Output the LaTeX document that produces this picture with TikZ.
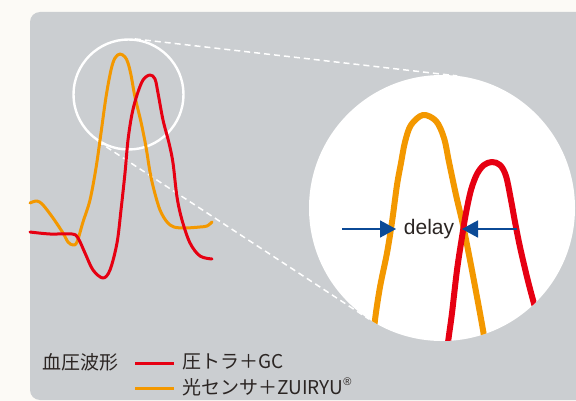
\documentclass[tikz,border=0pt]{standalone}
\usepackage{fontspec}
\newfontfamily\jp{Noto Sans CJK JP}
\newfontfamily\lat{Liberation Sans}
\usetikzlibrary{arrows.meta}
\definecolor{paper}{HTML}{FCFAF6}
\definecolor{panel}{HTML}{CBCED1}
\definecolor{wred}{HTML}{E60012}
\definecolor{worange}{HTML}{F39800}
\definecolor{navy}{HTML}{0B4A96}
\definecolor{ink}{HTML}{2B2523}
\tikzset{
  smallwave/.style={line width=3pt, line join=round, line cap=round},
  bigwave/.style={line width=6pt, line join=round, line cap=butt},
  zoomline/.style={draw=white, line width=1.5pt, dash pattern=on 6pt off 4pt},
  delayarrow/.style={draw=navy, line width=1.6pt, -{Triangle[length=16pt,width=17pt]}},
  legendline/.style={line width=3pt},
  legendtext/.style={anchor=west, inner sep=0pt, text=ink, font=\jp\fontsize{19}{19}\selectfont}
}
\begin{document}
\begin{tikzpicture}[x=1pt,y=-1pt]
\useasboundingbox (0,0) rectangle (576,401);
\fill[paper] (0,0) rectangle (576,401);
\begin{scope}
  \clip (0,0) rectangle (576,401);
  \fill[panel, rounded corners=10pt] (30,12) rectangle (620,400);
\end{scope}

% tangent (zoom) lines
\coordinate (t1a) at (134.9,38.9);
\coordinate (t1b) at (457.2,75.9);
\coordinate (t2a) at (97.8,141.3);
\coordinate (t2b) at (369.1,319.2);
\draw[zoomline] (t1a) -- (t1b);
\draw[zoomline] (t2a) -- (t2b);

% small circle
\node[circle, draw=white, line width=2.4pt, minimum size=110pt, inner sep=0pt] (sc) at (128.5,94.5) {};

% small waveforms
\draw[smallwave, worange] plot[smooth, tension=0.55] coordinates {
 (30,203) (37,201) (43,205) (53,218) (63,233) (68,242) (73,245) (77,242) (83,222) (90,200)
 (96,168) (101,133) (106,97) (111,70) (115,58) (120,54) (125,57) (128,63) (131,75) (135,97)
 (141,122) (146,147) (150,172) (154,190) (160,210) (167,222) (174,227) (185,228) (200,227)
 (207,226) (212,222)};
\draw[smallwave, wred] plot[smooth, tension=0.55] coordinates {
 (30,232) (50,234) (72,234) (78,238) (85,253) (93,270) (103,278) (110,270) (117,243)
 (121,210) (125,173) (128,140) (132,114) (137,95) (143,80) (150,75) (155,79) (158,93)
 (163,120) (169,143) (173,163) (177,197) (182,220) (190,243) (200,256) (212,259)};

% big circle
\fill[white] (442,208) circle (133pt);
\begin{scope}
  \clip (442,208) circle (133pt);
  \draw[bigwave, worange] plot[smooth, tension=0.55] coordinates {
   (373,345) (375,320) (380,287) (387,253) (392,222) (397,185) (401,163) (405,142)
   (411,125) (423,115) (436,121) (444,138) (449,162) (456,195) (463,225) (470,260)
   (477,297) (483,330) (486,350)};
  \draw[bigwave, wred] plot[smooth, tension=0.55] coordinates {
   (447,350) (449,335) (452,313) (457,270) (462,237) (466,213) (471,190) (477,174)
   (484,165) (492,162) (500,165) (506,176) (511,200) (515,222) (520,247) (527,277)
   (533,300) (540,325)};
\end{scope}

% delay arrows
\node[inner sep=0pt, text=ink, font=\lat\fontsize{21}{21}\selectfont] (delay) at (429,229) {delay};
\coordinate (la) at (342,229);
\coordinate (lt) at (396,229);
\coordinate (ra) at (517,229);
\coordinate (rt) at (462,229);
\draw[delayarrow] (la) -- (lt);
\draw[delayarrow] (ra) -- (rt);

% legend
\node[legendtext] (title) at (42,362) {血圧波形};
\coordinate (l1a) at (135,363);
\coordinate (l1b) at (174,363);
\coordinate (l2a) at (135,388);
\coordinate (l2b) at (174,388);
\draw[legendline, wred] (l1a) -- (l1b);
\draw[legendline, worange] (l2a) -- (l2b);
\node[legendtext] (lg1) at (182,362) {圧トラ＋GC};
\node[legendtext] (lg2) at (182,387) {光センサ＋ZUIRYU\raisebox{0.45em}{\lat\fontsize{11}{11}\selectfont ®}};
\end{tikzpicture}
\end{document}
